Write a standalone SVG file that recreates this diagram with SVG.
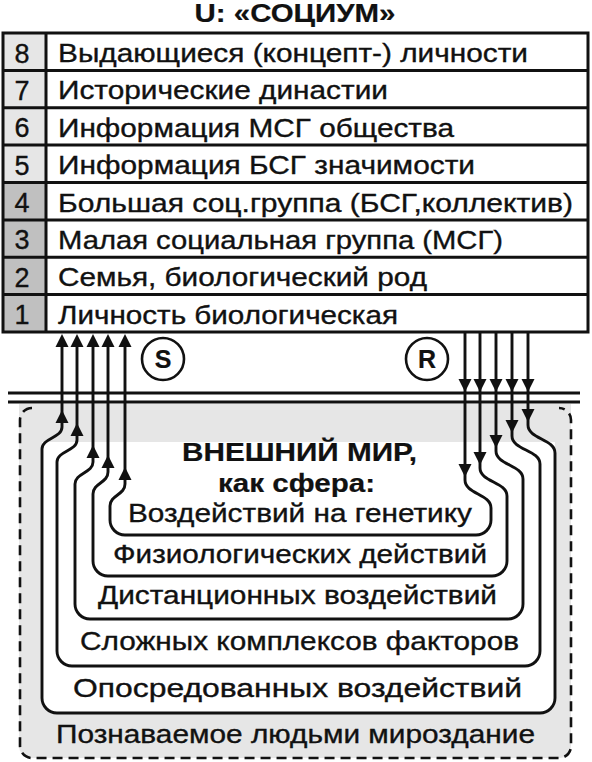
<svg xmlns="http://www.w3.org/2000/svg" xmlns:xlink="http://www.w3.org/1999/xlink" width="592" height="762" viewBox="0 0 592 762">
<style>
text{font-family:"Liberation Sans",Arial,sans-serif;fill:#111;stroke:#111;stroke-width:0.35}
.row{font-size:26px}
.num{font-size:27px;text-anchor:middle}
.b{font-weight:bold;stroke-width:0.2}
.lbl{font-size:26px}
.cellL{fill:#e6e6e6}
.cellD{fill:#c0c0c0}
.grid{stroke:#111;stroke-width:3;fill:none}
.loop{stroke:#111;stroke-width:2.9;fill:none;stroke-linejoin:round}
.ah{fill:#111}
.dash{stroke:#111;stroke-width:2.6;fill:none;stroke-dasharray:10 6}
.circ{stroke:#111;stroke-width:2.6;fill:#fff}
</style>
<defs>
<path id="up" d="M0,0 L-6.5,13 L6.5,13 Z"/>
<path id="dn" d="M0,0 L-6.5,-13 L6.5,-13 Z"/>
</defs>
<rect width="592" height="762" fill="#fff"/>

<!-- title -->
<g id="title"><text x="295" y="22" class="b" font-size="25" text-anchor="middle" textLength="201" lengthAdjust="spacingAndGlyphs">U: «СОЦИУМ»</text></g>

<!-- outer world background -->
<g id="world">
<path d="M19,404 H571 V746 A12,12 0 0 1 559,758 H31 A12,12 0 0 1 19,746 Z" fill="#e6e6e6"/>
<path d="M42,442 H555 V698 A15,15 0 0 1 540,713 H57 A15,15 0 0 1 42,698 Z" fill="#fff"/>
<path class="dash" d="M32,408 A12,12 0 0 0 20,420 V746 A12,12 0 0 0 32,758 H559 A12,12 0 0 0 571,746 V420 A12,12 0 0 0 559,408"/>
</g>

<!-- table -->
<g id="table">
<rect x="3" y="33" width="43" height="149.5" class="cellL"/>
<rect x="3" y="182.5" width="43" height="149.5" class="cellD"/>
<path class="grid" d="M3,33 H588 V332 H3 Z M46,33 V332 M3,70.4 H588 M3,107.75 H588 M3,145.1 H588 M3,182.5 H588 M3,219.9 H588 M3,257.25 H588 M3,294.6 H588"/>
</g>
<g id="row8"><text x="22" y="62.5" class="num">8</text><text x="58" y="62" class="row" textLength="470" lengthAdjust="spacingAndGlyphs">Выдающиеся (концепт-) личности</text></g>
<g id="row7"><text x="22" y="99.9" class="num">7</text><text x="58" y="99.4" class="row" textLength="330" lengthAdjust="spacingAndGlyphs">Исторические династии</text></g>
<g id="row6"><text x="22" y="137.25" class="num">6</text><text x="58" y="136.75" class="row" textLength="396" lengthAdjust="spacingAndGlyphs">Информация МСГ общества</text></g>
<g id="row5"><text x="22" y="174.6" class="num">5</text><text x="58" y="174.1" class="row" textLength="417" lengthAdjust="spacingAndGlyphs">Информация БСГ значимости</text></g>
<g id="row4"><text x="22" y="212" class="num">4</text><text x="58" y="211.5" class="row" textLength="515" lengthAdjust="spacingAndGlyphs">Большая соц.группа (БСГ,коллектив)</text></g>
<g id="row3"><text x="22" y="249.4" class="num">3</text><text x="58" y="248.9" class="row" textLength="445" lengthAdjust="spacingAndGlyphs">Малая социальная группа (МСГ)</text></g>
<g id="row2"><text x="22" y="286.75" class="num">2</text><text x="58" y="286.25" class="row" textLength="369" lengthAdjust="spacingAndGlyphs">Семья, биологический род</text></g>
<g id="row1"><text x="22" y="324.1" class="num">1</text><text x="58" y="323.6" class="row" textLength="340" lengthAdjust="spacingAndGlyphs">Личность биологическая</text></g>

<!-- S and R -->
<g id="S"><circle cx="163" cy="359" r="21" class="circ"/><text x="163" y="368" class="b" font-size="25" text-anchor="middle">S</text></g>
<g id="R"><circle cx="427" cy="359" r="21" class="circ"/><text x="427" y="368" class="b" font-size="25" text-anchor="middle">R</text></g>

<!-- boundary double line -->
<g id="boundary"><path class="grid" d="M8,393 H580 M8,402 H580"/></g>

<!-- connectors -->
<g id="connectors">
<path class="loop" d="M62,340 V427 C62,438 42,438 42,449 V698 A15,15 0 0 0 57,713 H540 A15,15 0 0 0 555,698 V453 C555,439 528,439 528,425 V333"/>
<path class="loop" d="M77,340 V440 C77,451 57,451 57,462 V651 A15,15 0 0 0 72,666 H525 A15,15 0 0 0 540,651 V464 C540,450 512,450 512,436 V333"/>
<path class="loop" d="M93,340 V462 C93,473 75,473 75,484 V604 A15,15 0 0 0 90,619 H508 A15,15 0 0 0 523,604 V479 C523,465 496,465 496,451 V333"/>
<path class="loop" d="M108,340 V472 C108,483 93,483 93,494 V561 A15,15 0 0 0 108,576 H492 A15,15 0 0 0 507,561 V496 C507,482 480,482 480,468 V333"/>
<path class="loop" d="M125,340 V484 C125,495 110,495 110,506 V520 A15,15 0 0 0 125,535 H476 A15,15 0 0 0 491,520 V508 C491,494 465,494 465,480 V333"/>
<g class="ah">
<use xlink:href="#up" x="62" y="334"/><use xlink:href="#up" x="77" y="334"/><use xlink:href="#up" x="93" y="334"/><use xlink:href="#up" x="108" y="334"/><use xlink:href="#up" x="125" y="334"/>
<use xlink:href="#up" x="62" y="410"/><use xlink:href="#up" x="77" y="423"/><use xlink:href="#up" x="93" y="445"/><use xlink:href="#up" x="108" y="455"/><use xlink:href="#up" x="125" y="467"/>
<use xlink:href="#dn" x="465" y="392"/><use xlink:href="#dn" x="480" y="392"/><use xlink:href="#dn" x="496" y="392"/><use xlink:href="#dn" x="512" y="392"/><use xlink:href="#dn" x="528" y="392"/>
<use xlink:href="#dn" x="528" y="422"/><use xlink:href="#dn" x="512" y="433"/><use xlink:href="#dn" x="496" y="448"/><use xlink:href="#dn" x="480" y="465"/><use xlink:href="#dn" x="465" y="477"/>
</g>
</g>

<!-- labels -->
<g id="heading">
<text x="182" y="461" class="b lbl" textLength="235" lengthAdjust="spacingAndGlyphs">ВНЕШНИЙ МИР,</text>
<text x="218" y="492" class="b lbl" textLength="157" lengthAdjust="spacingAndGlyphs">как сфера:</text>
</g>
<g id="sphere5"><text x="128" y="522" class="lbl" textLength="344" lengthAdjust="spacingAndGlyphs">Воздействий на генетику</text></g>
<g id="sphere4"><text x="113" y="563" class="lbl" textLength="374" lengthAdjust="spacingAndGlyphs">Физиологических действий</text></g>
<g id="sphere3"><text x="98" y="604" class="lbl" textLength="399" lengthAdjust="spacingAndGlyphs">Дистанционных воздействий</text></g>
<g id="sphere2"><text x="80" y="650" class="lbl" textLength="439" lengthAdjust="spacingAndGlyphs">Сложных комплексов факторов</text></g>
<g id="sphere1"><text x="73" y="697" class="lbl" textLength="449" lengthAdjust="spacingAndGlyphs">Опосредованных воздействий</text></g>
<g id="sphere0"><text x="56" y="743" class="lbl" textLength="479" lengthAdjust="spacingAndGlyphs">Познаваемое людьми мироздание</text></g>
</svg>
